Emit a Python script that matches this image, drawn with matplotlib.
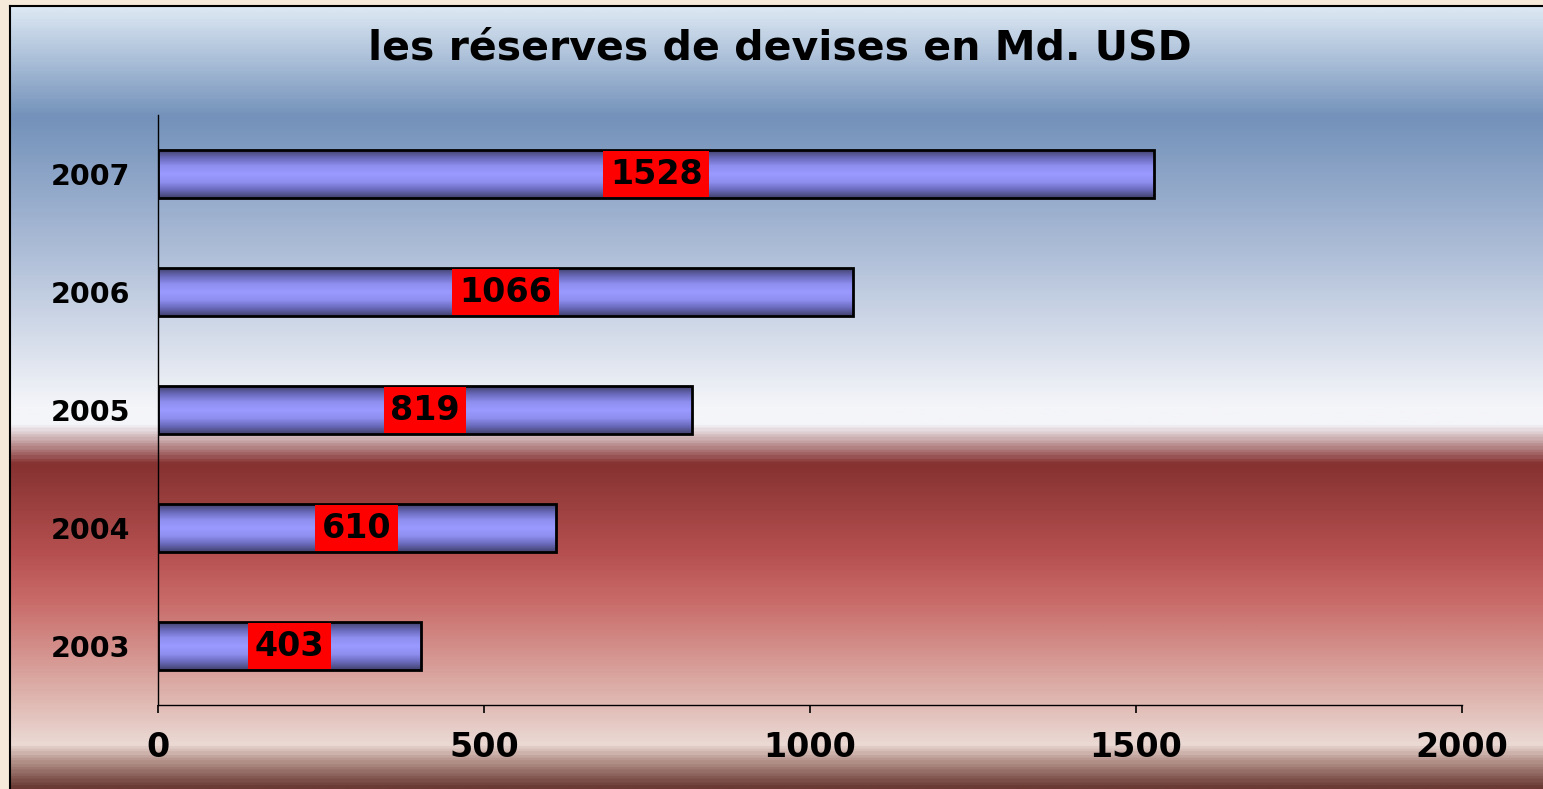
import numpy as np
import matplotlib
matplotlib.use("Agg")
import matplotlib.pyplot as plt
from matplotlib.colors import LinearSegmentedColormap

# data
years = ["2003", "2004", "2005", "2006", "2007"]
reserves = [403, 610, 819, 1066, 1528]
xticks = [0, 500, 1000, 1500, 2000]

plt.rcParams['font.family'] = ['DejaVu Sans']
plt.rcParams['font.weight'] = 'bold'

fig = plt.figure(figsize=(15.43, 7.89), dpi=100)
fig.patch.set_facecolor("#f6ebda")

# background panel with vertical gradient (top -> bottom)
bg = fig.add_axes([10 / 1543, 0, 1 - 10 / 1543, 1 - 6 / 789])
stops = [
    (0.00, "#dce8f3"),
    (0.14, "#7391ba"),
    (0.30, "#a9bad5"),
    (0.51, "#f4f5f9"),
    (0.535, "#f4f5f9"),
    (0.585, "#853231"),
    (0.70, "#b65050"),
    (0.76, "#c86a68"),
    (0.87, "#dcaca6"),
    (0.945, "#ebd9d4"),
    (0.965, "#b89890"),
    (1.00, "#6a3a34"),
]
bg_cmap = LinearSegmentedColormap.from_list("bg", stops)
grad = np.linspace(0, 1, 600).reshape(-1, 1)
bg.imshow(grad, aspect="auto", cmap=bg_cmap, extent=[0, 1, 1, 0])
bg.set_xlim(0, 1)
bg.set_ylim(1, 0)
bg.set_xticks([])
bg.set_yticks([])
for s in ["right", "bottom"]:
    bg.spines[s].set_visible(False)
bg.spines["left"].set_linewidth(1.5)
bg.spines["top"].set_linewidth(1.5)

ax = fig.add_axes([158 / 1543, 84 / 789, 1304 / 1543, 590 / 789])
ax.patch.set_alpha(0)

bar_cmap = LinearSegmentedColormap.from_list(
    "bar", ["#42426e", "#6a6abc", "#8f8ff0", "#9999ff", "#8f8ff0", "#6a6abc", "#42426e"])
bar_grad = np.linspace(0, 1, 100).reshape(-1, 1)
h = 0.4
ypos = np.arange(len(years))
for y, v in zip(ypos, reserves):
    ax.imshow(bar_grad, aspect="auto", cmap=bar_cmap,
              extent=[0, v, y - h / 2, y + h / 2], zorder=2)
ax.barh(ypos, reserves, height=h, facecolor="none", edgecolor="black",
        linewidth=2, zorder=3)

# value labels in red boxes, centred on each bar
for y, v in zip(ypos, reserves):
    ax.text(v / 2, y, str(v), ha="center", va="center", fontsize=24,
            fontweight="bold", color="black", zorder=5,
            bbox=dict(boxstyle="square,pad=0.2", facecolor="red",
                      edgecolor="none"))

ax.set_xlim(0, 2000)
ax.set_ylim(-0.5, 4.5)
ax.set_xticks(xticks)
ax.set_xticklabels([str(t) for t in xticks], fontsize=24, fontweight="bold")
ax.set_yticks(ypos)
ax.set_yticklabels(years, fontsize=20.5, fontweight="bold")
ax.tick_params(axis="x", direction="out", length=6, width=1.2, pad=13)
ax.tick_params(axis="y", length=0, pad=20)
for s in ["top", "right"]:
    ax.spines[s].set_visible(False)
ax.spines["left"].set_linewidth(1)
ax.spines["bottom"].set_linewidth(1)

fig.text(780 / 1543, 1 - 49 / 789, "les réserves de devises en Md. USD",
         ha="center", va="center", fontsize=29.5, fontweight="bold")

fig.savefig("out.png", dpi=100, facecolor=fig.get_facecolor())
